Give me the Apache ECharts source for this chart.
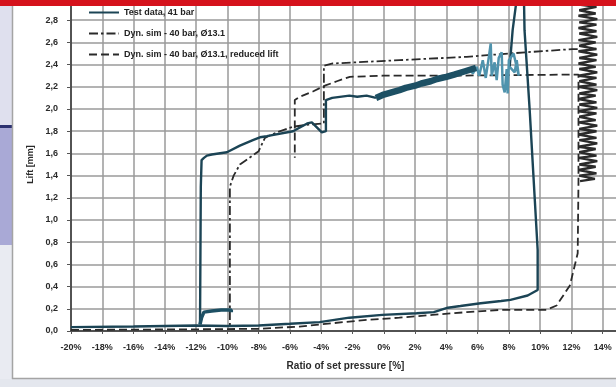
<!DOCTYPE html>
<html>
<head>
<meta charset="utf-8">
<script src="https://cdn.jsdelivr.net/npm/echarts@6/dist/echarts.min.js"></script>
<style>
  html, body { margin: 0; padding: 0; background: #ffffff; }
  #chart { width: 616px; height: 387px; }
</style>
</head>
<body>
<div id="chart"></div>
<script>
// x = ratio of set pressure [%], y = lift [mm]

// Test data, 41 bar: rising along the bottom, pop and peak
const testRiseX = [-20, -16, -12, -10, -8, -6, -4.1, -2.2, -0.1, 2.1, 3.2, 4.1, 4.9, 6.2, 7.5, 8.1, 9.2, 9.84, 9.84, 9.33, 9.0, 8.95, 8.6, 8.24, 8.05]
const testRiseY = [0.035, 0.04, 0.05, 0.045, 0.05, 0.065, 0.08, 0.12, 0.145, 0.16, 0.17, 0.21, 0.225, 0.25, 0.27, 0.28, 0.32, 0.37, 0.73, 1.99, 2.71, 3.1, 3.1, 2.71, 2.38]

// noisy part at full lift (lighter trace)
const testNoiseX = [8.05, 8.37, 8.5, 8.63, 8.3, 8.0, 7.92, 7.86, 7.73, 7.6, 7.54, 7.35, 7.22, 7.09, 6.9, 6.84, 6.71, 6.52, 6.33, 6.1, 5.94, 5.7, 5.5]
const testNoiseY = [2.38, 2.33, 2.44, 2.30, 2.50, 2.44, 2.14, 2.36, 2.15, 2.22, 2.51, 2.46, 2.26, 2.42, 2.30, 2.59, 2.46, 2.28, 2.44, 2.30, 2.38, 2.32, 2.36]

// thick band while pressure falls
const testBandX = [5.9, 5.2, 4.5, 4.0, 3.4, 3.0, 2.4, 2.0, 1.4, 1.0, 0.5, 0.0, -0.5]
const testBandY = [2.37, 2.34, 2.31, 2.29, 2.27, 2.25, 2.23, 2.21, 2.19, 2.17, 2.15, 2.13, 2.10]

// closing branch
const testCloseX = [-0.5, -1.1, -1.7, -2.2, -3.3, -3.7, -3.7, -3.96, -4.6, -4.9, -5.8, -7.48, -7.92, -8.37, -9.2, -10.03, -11.0, -11.31, -11.5, -11.65, -11.7, -11.75]
const testCloseY = [2.10, 2.12, 2.11, 2.12, 2.10, 2.08, 1.80, 1.79, 1.88, 1.87, 1.80, 1.755, 1.745, 1.72, 1.67, 1.61, 1.59, 1.58, 1.56, 1.54, 1.30, 0.06]

// small bounce after closing
const testHookX = [-11.75, -11.65, -11.5, -11.0, -10.4, -9.75, -9.75]
const testHookY = [0.06, 0.12, 0.17, 0.18, 0.19, 0.19, 0.17]

// Dyn. sim - 40 bar, Ø13.1 (dash-dot)
const simX = [12.4, 12.08, 8.0, 5.3, 1.0, -3.26, -3.83, -3.83, -4.8, -5.8, -6.84, -7.6, -8.0, -8.6, -9.2, -9.6, -9.84, -9.84]
const simY = [2.54, 2.54, 2.50, 2.47, 2.44, 2.41, 2.39, 1.87, 1.86, 1.84, 1.79, 1.74, 1.62, 1.56, 1.50, 1.40, 1.30, 0.02]

// oscillation at opening of the simulation
const simOscX = [12.55, 13.5, 12.5, 13.6, 12.45, 13.55, 12.5, 13.65, 12.45, 13.6, 12.5, 13.55, 12.45, 13.65, 12.5, 13.6,
  12.45, 13.6, 12.5, 13.65, 12.45, 13.55, 12.5, 13.6, 12.45, 13.65, 12.5, 13.6, 12.45, 13.55, 12.5, 13.65,
  12.45, 13.6, 12.5, 13.6, 12.45, 13.65, 12.5, 13.55, 12.45, 13.6, 12.5, 13.65, 12.45, 13.6, 12.5, 13.55,
  12.45, 13.65, 12.5, 13.6, 12.45, 13.6, 12.5, 13.65, 12.45, 13.55, 12.5, 13.6, 12.45, 13.65, 12.5, 13.6]
const simOscY = [1.35, 1.37, 1.40, 1.42, 1.45, 1.48, 1.50, 1.53, 1.56, 1.58, 1.61, 1.64, 1.66, 1.69, 1.72, 1.74,
  1.77, 1.80, 1.82, 1.85, 1.88, 1.90, 1.93, 1.96, 1.98, 2.01, 2.04, 2.06, 2.09, 2.12, 2.14, 2.17,
  2.20, 2.22, 2.25, 2.28, 2.30, 2.33, 2.36, 2.38, 2.41, 2.44, 2.46, 2.49, 2.52, 2.54, 2.57, 2.60,
  2.62, 2.65, 2.68, 2.70, 2.73, 2.76, 2.78, 2.81, 2.84, 2.86, 2.89, 2.92, 2.94, 2.97, 3.00, 3.05]

// Dyn. sim - 40 bar, Ø13.1, reduced lift (dashed)
const redX = [-20, -12, -8, -5.4, -3.3, -1.1, 1.0, 3.1, 5.3, 7.4, 10.4, 11.05, 11.9, 12.4, 12.45, 12.45, 12.08, 4.0, -0.06, -2.17, -3.0, -3.77, -4.5, -5.37, -5.69, -5.69]
const redY = [0.01, 0.015, 0.02, 0.04, 0.07, 0.10, 0.12, 0.145, 0.17, 0.19, 0.19, 0.23, 0.41, 0.70, 1.35, 2.31, 2.31, 2.30, 2.30, 2.29, 2.25, 2.21, 2.16, 2.11, 2.08, 1.56]

const xTicks = [-20, -18, -16, -14, -12, -10, -8, -6, -4, -2, 0, 2, 4, 6, 8, 10, 12, 14]

const names = ["Test data, 41 bar", "Dyn. sim - 40 bar, Ø13.1", "Dyn. sim - 40 bar, Ø13.1, reduced lift"]

const pairs = (xs, ys) => xs.map((x, i) => [x, ys[i]])

const chart = echarts.init(document.getElementById("chart"), null, { renderer: "canvas" })

const font = "Liberation Sans"
const testColor = "#1b4455"

const option = {
  animation: false,
  backgroundColor: "#ffffff",
  textStyle: { fontFamily: font },
  graphic: [
    // photo surroundings: left strip, frame and red band
    { type: "rect", z: -10, shape: { x: 0, y: 0, width: 13, height: 125 }, style: { fill: "#dfe0ee" } },
    { type: "rect", z: -10, shape: { x: 0, y: 125, width: 13, height: 3 }, style: { fill: "#2c3170" } },
    { type: "rect", z: -10, shape: { x: 0, y: 128, width: 13, height: 117 }, style: { fill: "#a9a9d6" } },
    { type: "rect", z: -10, shape: { x: 0, y: 245, width: 13, height: 142 }, style: { fill: "#e9ebf2" } },
    { type: "rect", z: -10, shape: { x: 0, y: 379, width: 616, height: 8 }, style: { fill: "#e4e7ee" } },
    { type: "line", z: -9, shape: { x1: 12.5, y1: 0, x2: 12.5, y2: 379 }, style: { stroke: "#a4a4a4", lineWidth: 1.5 } },
    { type: "line", z: -9, shape: { x1: 12, y1: 378.5, x2: 616, y2: 378.5 }, style: { stroke: "#a4a4a4", lineWidth: 1.5 } },
    { type: "rect", z: 100, shape: { x: 0, y: 0, width: 616, height: 6 }, style: { fill: "#d5121c" } }
  ],
  legend: {
    orient: "vertical",
    left: 88,
    top: 8,
    padding: 0,
    itemWidth: 30,
    itemHeight: 10,
    itemGap: 12,
    data: names,
    itemStyle: { opacity: 0 },
    textStyle: { fontSize: 9, fontWeight: "bold", color: "#222", fontFamily: font }
  },
  grid: { left: 71, top: -2, width: 563, height: 333, outerBoundsMode: "none", containLabel: false },
  xAxis: {
    type: "value",
    min: -20,
    max: 16,
    interval: 2,
    name: "Ratio of set pressure [%]",
    nameLocation: "middle",
    nameGap: 30,
    nameTextStyle: { fontSize: 10, fontWeight: "bold", color: "#2a2a2a", padding: [0, 14, 0, 0] },
    axisLine: { lineStyle: { color: "#333", width: 1.5 } },
    axisTick: { show: true, length: 3, lineStyle: { color: "#555" } },
    axisLabel: {
      fontSize: 9,
      fontWeight: "bold",
      color: "#2a2a2a",
      margin: 12,
      formatter: (v) => (xTicks.includes(v) ? v + "%" : "")
    },
    splitLine: { lineStyle: { color: "#9a9a9a", width: 1.5 } }
  },
  yAxis: {
    type: "value",
    min: 0,
    max: 3,
    interval: 0.2,
    name: "Lift [mm]",
    nameLocation: "middle",
    nameGap: 36,
    nameTextStyle: { fontSize: 9, fontWeight: "bold", color: "#2a2a2a" },
    axisLine: { show: true, onZero: false, lineStyle: { color: "#333", width: 1.5 } },
    axisTick: { show: true, length: 4, lineStyle: { color: "#555" } },
    axisLabel: {
      fontSize: 9,
      fontWeight: "bold",
      color: "#2a2a2a",
      margin: 13,
      formatter: (v) => v.toFixed(1).replace(".", ",")
    },
    splitLine: { lineStyle: { color: "#9a9a9a", width: 1.5 } }
  },
  series: [
    {
      name: names[0], type: "line", symbol: "none", z: 5,
      data: pairs(testRiseX, testRiseY),
      lineStyle: { color: testColor, width: 2.4 }, itemStyle: { color: testColor }
    },
    {
      name: names[1], type: "line", symbol: "none", z: 3,
      data: pairs(simX, simY),
      lineStyle: { color: "#2a2a2a", width: 1.8, type: [9, 3, 2.5, 3] }, itemStyle: { color: "#2a2a2a" }
    },
    {
      name: names[2], type: "line", symbol: "none", z: 3,
      data: pairs(redX, redY),
      lineStyle: { color: "#2a2a2a", width: 1.8, type: [8, 4] }, itemStyle: { color: "#2a2a2a" }
    },
    {
      name: names[1], type: "line", symbol: "none", z: 4,
      data: pairs(simOscX, simOscY),
      lineStyle: { color: "#2b2b2b", width: 2.4 }
    },
    {
      name: names[0], type: "line", symbol: "none", z: 6,
      data: pairs(testNoiseX, testNoiseY),
      lineStyle: { color: "#4f93ad", width: 2.5 }
    },
    {
      name: names[0], type: "line", symbol: "none", z: 6,
      data: pairs(testBandX, testBandY),
      lineStyle: { color: "#1d5064", width: 6.5 }
    },
    {
      name: names[0], type: "line", symbol: "none", z: 5,
      data: pairs(testCloseX, testCloseY),
      lineStyle: { color: testColor, width: 2.4 }
    },
    {
      name: names[0], type: "line", symbol: "none", z: 5,
      data: pairs(testHookX, testHookY),
      lineStyle: { color: "#1d5064", width: 3.5 }
    }
  ]
}

chart.setOption(option)
</script>
</body>
</html>
